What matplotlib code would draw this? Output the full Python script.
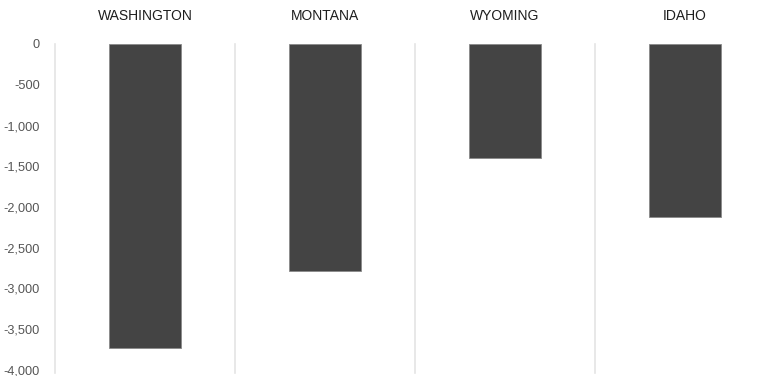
import numpy as np
import matplotlib
matplotlib.use("Agg")
import matplotlib.pyplot as plt

states = ["WASHINGTON", "MONTANA", "WYOMING", "IDAHO"]
change = [-3725, -2790, -1400, -2120]
y_ticks = [0, -500, -1000, -1500, -2000, -2500, -3000, -3500, -4000]

plt.rcParams["font.family"] = ["Liberation Sans", "DejaVu Sans"]

fig = plt.figure(figsize=(7.67, 3.76), dpi=100)
W, H = 767, 376
ax = fig.add_axes([55 / W, 6 / H, 720 / W, 326 / H])

x = np.arange(len(states))
ax.bar(x, change, width=0.4, color="#444444", edgecolor="#8a8a8a", linewidth=0.6, zorder=3)

ax.set_xlim(-0.5, len(states) - 0.5)
ax.set_ylim(-4000, 0)

# separators between the states
for b in np.arange(-0.5, len(states), 1.0):
    ax.axvline(b, color="#e4e4e4", linewidth=1.2, zorder=1, ymin=-0.01, clip_on=False)

for i, name in enumerate(states):
    ax.text(i, 1.085, name, transform=ax.get_xaxis_transform(), ha="center", va="center",
            fontsize=10, color="#1e1e1e")

ax.set_yticks(y_ticks)
ax.set_yticklabels([f"{v:,}" for v in y_ticks])
ax.tick_params(axis="y", length=0, pad=11, labelsize=9.2, labelcolor="#555555")
ax.set_xticks([])
for s in ax.spines.values():
    s.set_visible(False)

fig.savefig("out.png", dpi=100)
